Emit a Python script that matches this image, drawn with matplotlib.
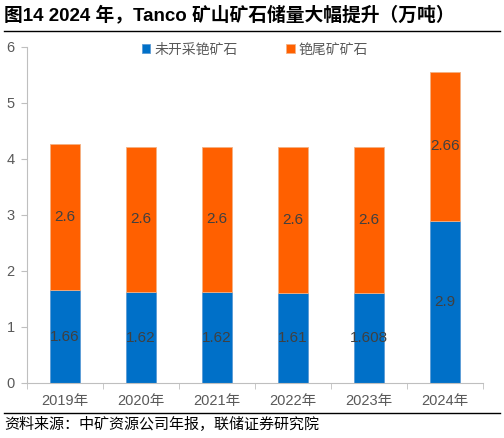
import matplotlib
matplotlib.use("Agg")
import matplotlib.pyplot as plt
import numpy as np

plt.rcParams['font.family'] = ['Liberation Sans', 'Noto Sans CJK SC', 'DejaVu Sans']

years = ['2019年', '2020年', '2021年', '2022年', '2023年', '2024年']
unmined = [1.66, 1.62, 1.62, 1.61, 1.608, 2.9]
tailings = [2.6, 2.6, 2.6, 2.6, 2.6, 2.66]
unmined_labels = ['1.66', '1.62', '1.62', '1.61', '1.608', '2.9']
tailings_labels = ['2.6', '2.6', '2.6', '2.6', '2.6', '2.66']

blue = '#0070C8'
orange = '#FF6000'
grey = '#595959'

fig = plt.figure(figsize=(5.04, 4.38), dpi=100)
ax = fig.add_axes([27/504, (438-383)/438, 456/504, 336/438])

x = np.arange(len(years))
ax.bar(x, unmined, width=0.4, color=blue, edgecolor='#5B9BD5', linewidth=0.6, label='未开采铯矿石')
ax.bar(x, tailings, width=0.4, bottom=unmined, color=orange, edgecolor='#F4B183', linewidth=0.6, label='铯尾矿矿石')

for i in x:
    ax.text(i, unmined[i] / 2, unmined_labels[i], ha='center', va='center', fontsize=11, color='#404040')
    ax.text(i, unmined[i] + tailings[i] / 2, tailings_labels[i], ha='center', va='center', fontsize=11, color='#404040')

ax.set_xlim(-0.5, 5.5)
ax.set_ylim(0, 6)
ax.set_yticks(range(7))
ax.set_xticks(x)
ax.set_xticklabels(years)
ax.set_xticks(np.arange(-0.5, 6, 1), minor=True)
ax.tick_params(axis='x', which='major', length=0, pad=8, labelsize=10.5, labelcolor=grey)
ax.tick_params(axis='x', which='minor', length=4, color='#BFBFBF', direction='out')
ax.tick_params(axis='y', length=4, color='#BFBFBF', labelsize=10.5, labelcolor=grey, pad=5)
for s in ['top', 'right']:
    ax.spines[s].set_visible(False)
ax.spines['left'].set_color('#BFBFBF')
ax.spines['bottom'].set_color('#BFBFBF')

ax.legend(loc='upper center', bbox_to_anchor=(0.5, 1.05), ncol=2, frameon=False,
          fontsize=10, handlelength=0.6, handleheight=0.6, columnspacing=3.5,
          handletextpad=0.3, labelcolor=grey)

fig.text(4/504, 1 - 15/438, '图14 2024 年，Tanco 矿山矿石储量大幅提升（万吨）', fontsize=13.5,
         fontweight='bold', va='center', ha='left')
fig.add_artist(plt.Line2D([4/504, 500/504], [1 - 31/438, 1 - 31/438], color='black', lw=1))
fig.add_artist(plt.Line2D([4/504, 500/504], [1 - 413/438, 1 - 413/438], color='black', lw=1))
fig.text(4/504, 1 - 425/438, '资料来源：中矿资源公司年报，联储证券研究院', fontsize=10.8, va='center', ha='left')

fig.savefig('out.png', dpi=100)
